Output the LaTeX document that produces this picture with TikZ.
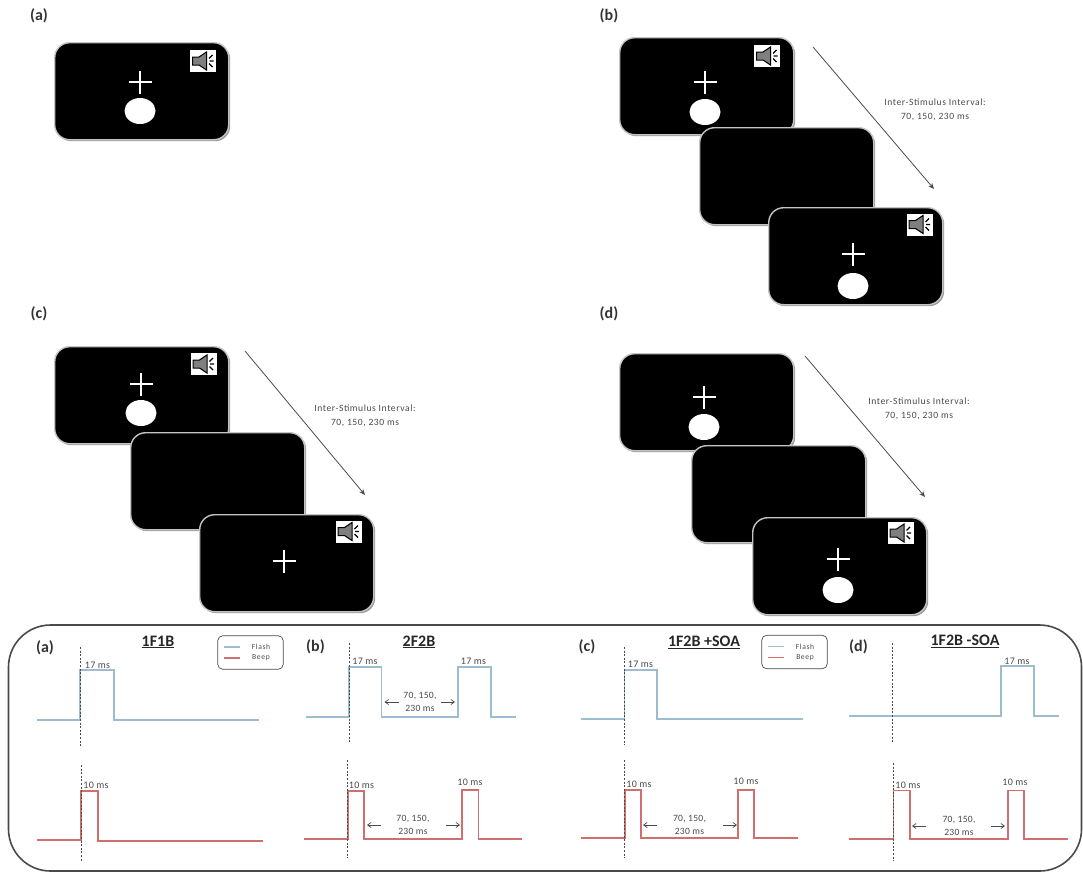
\documentclass[tikz,border=0pt]{standalone}
\usepackage{fontspec}
\setmainfont{Carlito}
\usetikzlibrary{arrows.meta,shapes.geometric,shadows}
\definecolor{stimedge}{HTML}{C4C4C4}
\definecolor{stimshade}{HTML}{9A9A9A}
\definecolor{wavequiet}{HTML}{4A4A4A}
\definecolor{flashline}{HTML}{9CBDD0}
\definecolor{beepline}{HTML}{D0706E}
\definecolor{speakergrey}{HTML}{7F7F7F}
\tikzset{
  every picture/.style={font=\fontsize{9}{12.5}\selectfont,text=wavequiet},
  screen/.style={rectangle,anchor=north west,fill=black,draw=stimedge,line width=1.4pt,
    rounded corners=15pt,minimum width=174pt,minimum height=97pt,inner sep=0pt,
    drop shadow={shadow xshift=1.5pt,shadow yshift=-1.5pt,fill=stimshade,opacity=1}},
  disc/.style={ellipse,fill=white,minimum width=31pt,minimum height=26pt,inner sep=0pt},
  panel label/.style={font=\bfseries\fontsize{16}{18}\selectfont,text=black!80,inner sep=0pt},
  title/.style={font=\bfseries\fontsize{16}{18}\selectfont,text=black!85,inner sep=0pt},
  duration/.style={inner sep=0pt,font=\addfontfeature{LetterSpace=3}\fontsize{10}{12}\selectfont},
  gap/.style={align=center,inner sep=0pt,font=\addfontfeature{LetterSpace=3}\fontsize{9.6}{12.8}\selectfont},
  gap arrow/.style={draw=wavequiet,line width=0.7pt,-{Straight Barb[length=3.5pt,width=5pt]}},
  isi arrow/.style={draw=wavequiet,line width=0.8pt,-{Stealth[length=6pt,width=5pt]}},
  isi text/.style={align=center,inner sep=0pt,font=\addfontfeature{LetterSpace=6}\fontsize{9.6}{14}\selectfont},
  flash/.style={draw=flashline,line width=1.25pt},
  beep/.style={draw=beepline,line width=1.25pt},
  onset/.style={draw=wavequiet,line width=0.6pt,dash pattern=on 2pt off 1.6pt},
  keybox/.style={rectangle,draw=wavequiet,line width=0.7pt,rounded corners=5pt,
    minimum width=65.5pt,minimum height=33.5pt,inner sep=0pt},
  keytext/.style={font=\addfontfeature{LetterSpace=8}\fontsize{7.6}{9}\selectfont,inner sep=0pt},
  fixation/.pic={
    \draw[white,line width=1.1pt] (-11.5,0) -- (11.5,0) (0,-11.5) -- (0,11.5);
  },
  speaker/.pic={
    \fill[white] (-13,-11) rectangle (13,11);
    \draw[fill=speakergrey,line width=1pt] (-10.5,-4) -- (-4,-4) -- (3.5,-9) -- (3.5,9) -- (-4,4) -- (-10.5,4) -- cycle;
    \draw[line width=1.3pt] (6,-2.5) -- (9.5,-6) (6.5,0) -- (10.5,0) (6,2.5) -- (9.5,6);
  },
}
\begin{document}
\begin{tikzpicture}[x=1pt,y=-1pt]
  \path[use as bounding box] (0,0) rectangle (1083,873);
  % stimulus screens, back to front
  \foreach \name/\x/\y in {asingle/54/42,bfirst/619/37,bblank/699/127,blast/768/207,
    cfirst/54/346,cblank/130/432,clast/199/514,dfirst/619/353,dblank/691/445,dlast/752/517}
    {\node[screen] (\name) at (\x,\y) {};}
  \foreach \x/\y in {203/61,767/56,919.5/224.5,203.5/364,348.5/531.5,900.5/533}
    {\pic at (\x,\y) {speaker};}
  \foreach \x/\y in {140/82,705/82,853/254,141/384,284/561,704/397,838/559}
    {\pic at (\x,\y) {fixation};}
  \foreach \name/\x/\y in {adisc/140/111,bdisca/705/112,bdiscb/853/286,cdisc/141/413,ddisca/704/427,ddiscb/838/590}
    {\node[disc] (\name) at (\x,\y) {};}
  \node[panel label] (labela) at (39,16) {(a)};
  \node[panel label] (labelb) at (609,16) {(b)};
  \node[panel label] (labelc) at (39,314) {(c)};
  \node[panel label] (labeld) at (609,314) {(d)};
  % inter-stimulus arrows
  \foreach \name/\ax/\ay/\bx/\by/\tx/\ty in {b/813/47/934/189/935/110,c/245/351/365/495/365/416,d/805/356/925/497/919/409}{
    \coordinate (isi\name a) at (\ax,\ay);
    \coordinate (isi\name b) at (\bx,\by);
    \draw[isi arrow] (isi\name a) -- (isi\name b);
    \node[isi text] (isitext\name) at (\tx,\ty) {Inter-Stimulus Interval:\\70, 150, 230 ms};
  }
  % timing panel
  \draw[wavequiet,line width=1.6pt,rounded corners=42pt] (8.5,625) rectangle (1081.5,871);
  \node[panel label] (panela) at (45,648) {(a)};
  \node[panel label] (panelb) at (315.5,647) {(b)};
  \node[panel label] (panelc) at (587,647) {(c)};
  \node[panel label] (paneld) at (858.5,647) {(d)};
  \node[title] (titlea) at (158,642) {\underline{1F1B}};
  \node[title] (titleb) at (419,642) {\underline{2F2B}};
  \node[title] (titlec) at (704,642) {\underline{1F2B +SOA}};
  \node[title] (titled) at (965,641) {\underline{1F2B -SOA}};
  \foreach \name/\x/\y in {a/250.5/652.5,c/794.5/652}{
    \node[keybox] (key\name) at (\x,\y) {};
    \node[keytext] (keyflash\name) at (\x+10.5,\y-5.5) {Flash};
    \node[keytext] (keybeep\name) at (\x+10.5,\y+5.5) {Beep};
    \draw[flash] (\x-27,\y-5.5) -- (\x-10.5,\y-5.5);
    \draw[beep] (\x-27,\y+5.5) -- (\x-10.5,\y+5.5);
  }
  % flash traces
  \draw[flash] (37,720) -| (80,670) -| (114,720) -- (259,720);
  \draw[flash] (305.5,717) -| (349,667) -| (381.5,717) -| (458,667) -| (491,717) -- (516,717);
  \draw[flash] (581,719) -| (624.5,670) -| (657,719) -- (803,719);
  \draw[flash] (849,716) -| (1001,666) -| (1034,716) -- (1059,716);
  % beep traces
  \draw[beep] (37,840) -| (81,791) -| (98,841) -- (263,841);
  \draw[beep] (304,839) -| (348,791) -| (364,839) -| (462,790) -| (478.5,839) -- (522,839);
  \draw[beep] (580.5,838) -| (625,790) -| (641,838) -| (738,790) -| (754,838) -- (798,838);
  \draw[beep] (849,839) -| (893.5,790.5) -| (910,839) -| (1008,790.5) -| (1024,839) -- (1068,839);
  % onset markers
  \foreach \x/\ya/\yb in {80.5/647/746,81.5/765/862,349/643/742,347.5/760/858,624/647/745,624/760/858,892/643/742,893/763/861}
    {\draw[onset] (\x,\ya) -- (\x,\yb);}
  % durations
  \foreach \name/\txt/\x/\y in {fa/17/97.5/665,fba/17/365/661,fbb/17/473.5/661,fc/17/640.5/664,fd/17/1017/661,
    ba/10/96/785,bba/10/361.5/785,bbb/10/470/782,bca/10/639/784,bcb/10/746/781,bda/10/908/785,bdb/10/1015/782}
    {\node[duration] (dur\name) at (\x,\y) {\txt{} ms};}
  % gaps between pulses
  \foreach \name/\x/\y/\la/\ra in {flashb/420/702/384.5/455,beepb/413/825/367/460,beepc/689.5/825/643/737,beepd/959/826/912/1005}{
    \node[gap] (\name) at (\x,\y) {70, 150,\\230 ms};
    \coordinate (\name la) at (\la+14,\y);
    \coordinate (\name lb) at (\la,\y);
    \coordinate (\name ra) at (\ra-14,\y);
    \coordinate (\name rb) at (\ra,\y);
    \draw[gap arrow] (\name la) -- (\name lb);
    \draw[gap arrow] (\name ra) -- (\name rb);
  }
\end{tikzpicture}
\end{document}
